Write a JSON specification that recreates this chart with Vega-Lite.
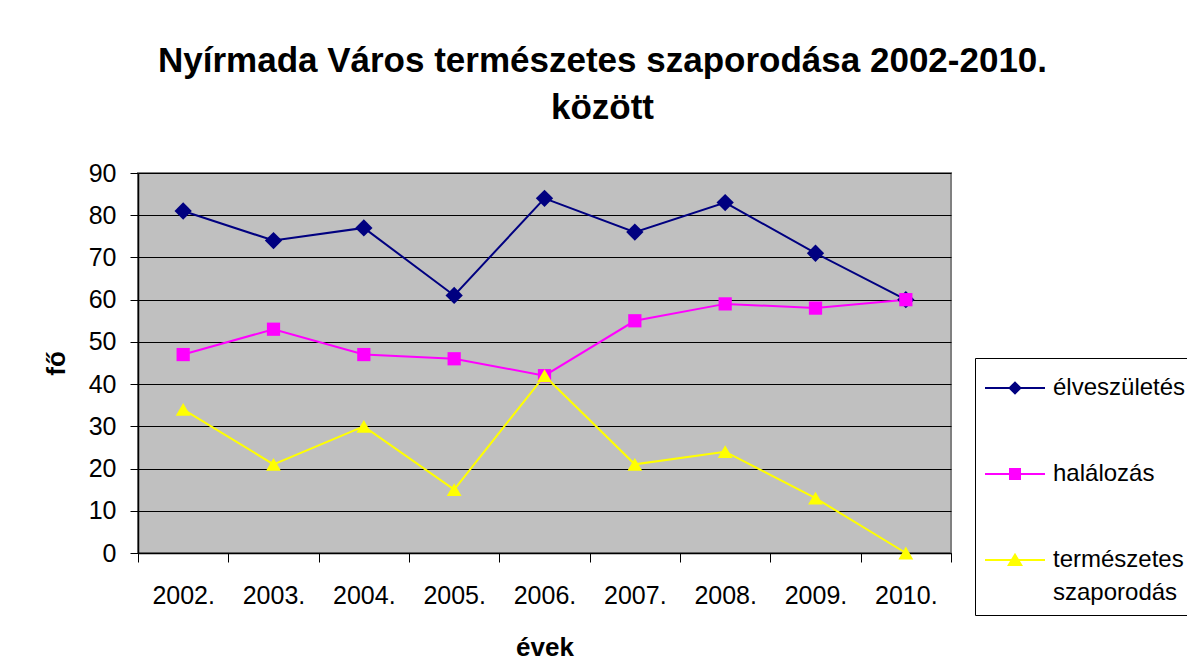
{
  "$schema": "https://vega.github.io/schema/vega-lite/v6.json",
  "autosize": {"type": "none"},
  "padding": {"left": 138, "top": 173, "right": 236, "bottom": 116},
  "width": 813,
  "height": 380,
  "background": "white",
  "title": {
    "text": ["Nyírmada Város természetes szaporodása 2002-2010.", "között"],
    "font": "Liberation Sans",
    "fontSize": 35,
    "fontWeight": "bold",
    "color": "black",
    "anchor": "middle",
    "frame": "group",
    "dx": 58,
    "offset": 0,
    "baseline": "bottom",
    "lineHeight": 47
  },
  "data": {
    "values": [
      {"year": "2002.", "series": "élveszületés", "value": 81},
      {"year": "2003.", "series": "élveszületés", "value": 74},
      {"year": "2004.", "series": "élveszületés", "value": 77},
      {"year": "2005.", "series": "élveszületés", "value": 61},
      {"year": "2006.", "series": "élveszületés", "value": 84},
      {"year": "2007.", "series": "élveszületés", "value": 76},
      {"year": "2008.", "series": "élveszületés", "value": 83},
      {"year": "2009.", "series": "élveszületés", "value": 71},
      {"year": "2010.", "series": "élveszületés", "value": 60},
      {"year": "2002.", "series": "halálozás", "value": 47},
      {"year": "2003.", "series": "halálozás", "value": 53},
      {"year": "2004.", "series": "halálozás", "value": 47},
      {"year": "2005.", "series": "halálozás", "value": 46},
      {"year": "2006.", "series": "halálozás", "value": 42},
      {"year": "2007.", "series": "halálozás", "value": 55},
      {"year": "2008.", "series": "halálozás", "value": 59},
      {"year": "2009.", "series": "halálozás", "value": 58},
      {"year": "2010.", "series": "halálozás", "value": 60},
      {"year": "2002.", "series": "természetes szaporodás", "value": 34},
      {"year": "2003.", "series": "természetes szaporodás", "value": 21},
      {"year": "2004.", "series": "természetes szaporodás", "value": 30},
      {"year": "2005.", "series": "természetes szaporodás", "value": 15},
      {"year": "2006.", "series": "természetes szaporodás", "value": 42},
      {"year": "2007.", "series": "természetes szaporodás", "value": 21},
      {"year": "2008.", "series": "természetes szaporodás", "value": 24},
      {"year": "2009.", "series": "természetes szaporodás", "value": 13},
      {"year": "2010.", "series": "természetes szaporodás", "value": 0}
    ]
  },
  "encoding": {
    "x": {
      "field": "year",
      "type": "ordinal",
      "scale": {
        "type": "band",
        "domain": ["2002.", "2003.", "2004.", "2005.", "2006.", "2007.", "2008.", "2009.", "2010."],
        "paddingInner": 0,
        "paddingOuter": 0
      },
      "axis": {
        "title": "évek",
        "titleFont": "Liberation Sans",
        "titleFontSize": 26,
        "titleFontWeight": "bold",
        "titleColor": "black",
        "titlePadding": 26,
        "labelFont": "Liberation Sans",
        "labelFontSize": 25,
        "labelColor": "black",
        "labelPadding": 21,
        "labelAngle": 0,
        "tickBand": "extent",
        "tickSize": 9,
        "tickColor": "black",
        "domainColor": "black",
        "domainWidth": 1.5,
        "grid": false
      }
    },
    "y": {
      "field": "value",
      "type": "quantitative",
      "scale": {"domain": [0, 90], "nice": false},
      "axis": {
        "title": "fő",
        "values": [0, 10, 20, 30, 40, 50, 60, 70, 80, 90],
        "titleFont": "Liberation Sans",
        "titleFontSize": 26,
        "titleFontWeight": "bold",
        "titleColor": "black",
        "titlePadding": 19,
        "labelFont": "Liberation Sans",
        "labelFontSize": 25,
        "labelColor": "black",
        "labelPadding": 14,
        "tickSize": 8,
        "tickColor": "black",
        "domainColor": "black",
        "domainWidth": 1.5,
        "grid": true,
        "gridColor": "black",
        "gridWidth": 1
      }
    },
    "color": {
      "field": "series",
      "type": "nominal",
      "scale": {
        "domain": ["élveszületés", "halálozás", "természetes szaporodás"],
        "range": ["#000080", "#FF00FF", "#FFFF00"]
      },
      "legend": {
        "title": null,
        "orient": "none",
        "legendX": 837,
        "legendY": 185,
        "direction": "vertical",
        "fillColor": "white",
        "strokeColor": "black",
        "padding": 10,
        "symbolSize": 1600,
        "symbolOpacity": 1,
        "symbolStrokeWidth": 0,
        "labelFont": "Liberation Sans",
        "labelFontSize": 24,
        "labelColor": "black",
        "labelOffset": 28,
        "labelLimit": 300,
        "rowPadding": 54,
        "labelExpr": "datum.label == 'természetes szaporodás' ? ['természetes', 'szaporodás'] : datum.label",
        "encode": {
          "labels": {"update": {"lineHeight": {"value": 33}}}
        }
      }
    }
  },
  "layer": [
    {"mark": {"type": "line", "strokeWidth": 2}},
    {
      "mark": {"type": "point", "filled": true, "opacity": 0},
      "encoding": {
        "shape": {
          "field": "series",
          "type": "nominal",
          "scale": {
            "domain": ["élveszületés", "halálozás", "természetes szaporodás"],
            "range": [
              "M-1,-0.05H2V0.05H-1Z M0.5,-0.34L0.84,0L0.5,0.34L0.16,0Z",
              "M-1,-0.05H2V0.05H-1Z M0.2,-0.3H0.8V0.3H0.2Z",
              "M-1,-0.05H2V0.05H-1Z M0.5,-0.36L0.9,0.3H0.1Z"
            ]
          },
          "legend": {
            "title": null,
            "orient": "none",
            "legendX": 837,
            "legendY": 185,
            "direction": "vertical",
            "fillColor": "white",
            "strokeColor": "black",
            "padding": 10,
            "symbolSize": 1600,
            "symbolOpacity": 1,
            "symbolStrokeWidth": 0,
            "labelFont": "Liberation Sans",
            "labelFontSize": 24,
            "labelColor": "black",
            "labelOffset": 28,
            "labelLimit": 300,
            "rowPadding": 54,
            "labelExpr": "datum.label == 'természetes szaporodás' ? ['természetes', 'szaporodás'] : datum.label",
            "encode": {
              "labels": {"update": {"lineHeight": {"value": 33}}}
            }
          }
        }
      }
    },
    {
      "transform": [{"filter": "datum.series == 'élveszületés'"}],
      "mark": {"type": "point", "filled": true, "opacity": 1, "shape": "diamond", "size": 300}
    },
    {
      "transform": [{"filter": "datum.series == 'halálozás'"}],
      "mark": {"type": "point", "filled": true, "opacity": 1, "shape": "square", "size": 175}
    },
    {
      "transform": [{"filter": "datum.series == 'természetes szaporodás'"}],
      "mark": {"type": "point", "filled": true, "opacity": 1, "shape": "triangle-up", "size": 220}
    }
  ],
  "config": {
    "view": {"fill": "#C0C0C0", "stroke": "#808080", "strokeWidth": 2},
    "font": "Liberation Sans"
  }
}
